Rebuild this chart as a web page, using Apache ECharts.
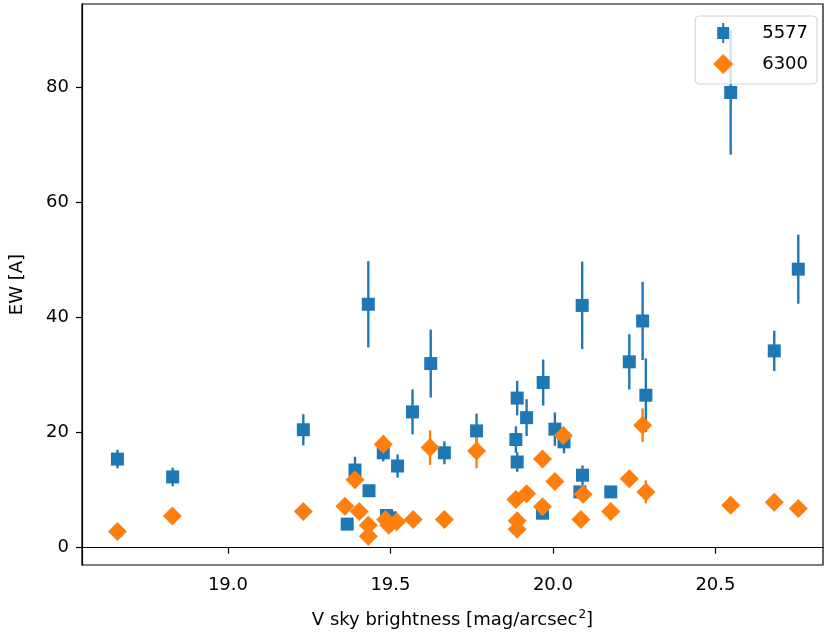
<!DOCTYPE html>
<html>
<head>
<meta charset="utf-8">
<script src="https://cdn.jsdelivr.net/npm/echarts@6/dist/echarts.min.js"></script>
<style>
  html, body { margin: 0; padding: 0; background: #fff; }
  #chart { width: 825px; height: 637px; }
</style>
</head>
<body>
<div id="chart"></div>
<script>
// 5577 line: sky brightness, equivalent width, error
const sky5577 = [18.66, 18.83, 19.232, 19.367, 19.391, 19.432, 19.434, 19.478, 19.488, 19.50,
  19.522, 19.568, 19.624, 19.666, 19.765, 19.886, 19.89, 19.89, 19.919, 19.97,
  19.968, 20.006, 20.034, 20.09, 20.091, 20.083, 20.178, 20.235, 20.276, 20.286,
  20.547, 20.681, 20.755]
const ew5577 = [15.4, 12.3, 20.5, 4.1, 13.5, 42.3, 9.9, 16.5, 5.6, 5.2,
  14.2, 23.6, 32.0, 16.5, 20.3, 18.8, 26.0, 14.9, 22.6, 28.7,
  6.0, 20.6, 18.4, 42.1, 12.6, 9.7, 9.7, 32.3, 39.4, 26.5,
  79.1, 34.2, 48.4]
const err5577 = [1.6, 1.6, 2.7, 0.8, 2.3, 7.5, 1.0, 1.5, 1.0, 1.0,
  2.0, 3.9, 5.9, 2.0, 3.0, 2.3, 3.0, 1.7, 3.2, 4.0,
  0.8, 2.9, 2.0, 7.6, 1.7, 1.0, 1.0, 4.8, 6.8, 6.4,
  10.8, 3.5, 6.0]

// 6300 line
const sky6300 = [18.66, 18.829, 19.232, 19.36, 19.391, 19.404, 19.432, 19.432, 19.478, 19.485,
  19.495, 19.519, 19.57, 19.622, 19.666, 19.765, 19.886, 19.89, 19.89, 19.919,
  19.968, 19.968, 20.006, 20.032, 20.086, 20.093, 20.178, 20.235, 20.276, 20.286,
  20.547, 20.681, 20.755]
const ew6300 = [2.8, 5.5, 6.3, 7.2, 11.8, 6.3, 3.9, 2.0, 18.0, 4.9,
  3.9, 4.5, 4.9, 17.4, 4.9, 16.8, 8.4, 4.7, 3.2, 9.4,
  15.4, 7.1, 11.5, 19.5, 4.9, 9.3, 6.3, 12.0, 21.3, 9.7,
  7.4, 7.9, 6.8]
const err6300 = [0.3, 0.5, 0.6, 0.7, 1.2, 0.6, 0.5, 0.3, 1.5, 0.5,
  0.5, 0.5, 0.5, 3.0, 0.5, 3.0, 0.8, 0.5, 0.4, 0.9,
  1.2, 0.7, 1.0, 1.5, 0.5, 1.0, 0.6, 1.0, 2.9, 2.0,
  0.6, 0.6, 0.6]

const xTicks = [19.0, 19.5, 20.0, 20.5]
const yTicks = [0, 20, 40, 60, 80]

const blue = '#1f77b4'
const orange = '#ff7f0e'
const font = 'DejaVu Sans'

function pts(xs, ys, es) {
    return xs.map((x, i) => [x, ys[i], es[i]])
}

function errBars(color) {
    return function (params, api) {
        let x = api.value(0), y = api.value(1), e = api.value(2)
        let top = api.coord([x, y + e])
        let bot = api.coord([x, y - e])
        return {
            type: 'line',
            shape: { x1: top[0], y1: top[1], x2: bot[0], y2: bot[1] },
            style: { stroke: color, lineWidth: 2.4 }
        }
    }
}

const squareIcon = 'path://M0,0 L0.01,0 L0,0.01 Z M20,20 L19.99,20 L20,19.99 Z ' +
    'M4,4 L9,4 L9,0 L11,0 L11,4 L16,4 L16,16 L11,16 L11,20 L9,20 L9,16 L4,16 Z'
const diamondIcon = 'path://M10,0 L20,10 L10,20 L0,10 Z'

let chart = echarts.init(document.getElementById('chart'))
let option = {
    animation: false,
    textStyle: { fontFamily: font },
    grid: {
        left: 82, right: 2, top: 4, bottom: 72,
        show: true, borderColor: '#000', borderWidth: 1.2
    },
    legend: {
        orient: 'vertical',
        right: 8,
        top: 16,
        padding: [7, 9, 10, 18],
        itemGap: 11,
        itemWidth: 20,
        itemHeight: 20,
        backgroundColor: 'rgba(255,255,255,0.8)',
        borderColor: '#d0d0d0',
        borderWidth: 1,
        borderRadius: 4,
        textStyle: { fontFamily: font, fontSize: 18, color: '#000', padding: [0, 0, 0, 24], lineHeight: 20 },
        data: [
            { name: '5577', icon: squareIcon },
            { name: '6300', icon: diamondIcon }
        ]
    },
    xAxis: {
        type: 'value',
        min: 18.551,
        max: 20.831,
        name: 'V sky brightness [mag/arcsec{sup|2}]',
        nameLocation: 'middle',
        nameGap: 44,
        nameTextStyle: {
            fontFamily: font, fontSize: 18, color: '#000',
            rich: { sup: { fontFamily: font, fontSize: 12, color: '#000', verticalAlign: 'top', padding: [0, 0, 10, 1] } }
        },
        splitLine: { show: false },
        axisLine: { lineStyle: { color: '#000', width: 1.2 } },
        axisTick: { customValues: xTicks, length: 6, lineStyle: { color: '#000', width: 1.2 } },
        axisLabel: {
            customValues: xTicks, margin: 11, fontSize: 18, color: '#000', fontFamily: font,
            formatter: v => v.toFixed(1)
        }
    },
    yAxis: {
        type: 'value',
        min: -3.0,
        max: 94.47,
        name: 'EW [A]',
        nameLocation: 'middle',
        nameGap: 56,
        nameTextStyle: { fontFamily: font, fontSize: 18, color: '#000' },
        splitLine: { show: false },
        axisLine: { show: true, lineStyle: { color: '#000', width: 1.2 } },
        axisTick: { show: true, customValues: yTicks, length: 6, lineStyle: { color: '#000', width: 1.2 } },
        axisLabel: { customValues: yTicks, margin: 13, fontSize: 18, color: '#000', fontFamily: font }
    },
    series: [
        {
            type: 'custom',
            renderItem: errBars(blue),
            encode: { x: 0, y: 1 },
            data: pts(sky5577, ew5577, err5577),
            clip: true
        },
        {
            name: '5577',
            type: 'scatter',
            symbol: 'rect',
            symbolSize: 13,
            itemStyle: { color: blue, opacity: 1 },
            data: pts(sky5577, ew5577, err5577)
        },
        {
            type: 'custom',
            renderItem: errBars(orange),
            encode: { x: 0, y: 1 },
            data: pts(sky6300, ew6300, err6300),
            clip: true
        },
        {
            name: '6300',
            type: 'scatter',
            symbol: 'diamond',
            symbolSize: 19,
            itemStyle: { color: orange, opacity: 1 },
            data: pts(sky6300, ew6300, err6300)
        }
    ]
}
chart.setOption(option)
</script>
</body>
</html>
